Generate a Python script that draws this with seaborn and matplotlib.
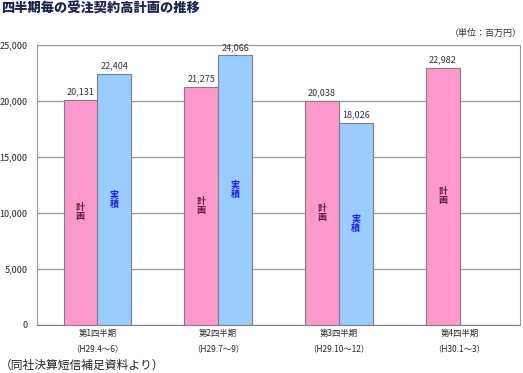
import pandas as pd
import matplotlib
matplotlib.use('Agg')
import matplotlib.pyplot as plt
import seaborn as sns

# data
quarters = ['第1四半期', '第2四半期', '第3四半期', '第4四半期']
periods = ['（H29.4～6）', '（H29.7～9）', '（H29.10～12）', '（H30.1～3）']
plan = [20131, 21275, 20038, 22982]
actual = [22404, 24066, 18026, 0]  # no actual yet for Q4
series_names = ['計画', '実積']

sns.set_style('white')
plt.rcParams['font.family'] = ['Noto Sans CJK JP', 'DejaVu Sans']

rows = []
for q, p, a in zip(quarters, plan, actual):
    rows.append({'quarter': q, 'series': series_names[0], 'value': p})
    rows.append({'quarter': q, 'series': series_names[1], 'value': a})
df = pd.DataFrame(rows)

fig = plt.figure(figsize=(5.23, 3.73), dpi=100)
ax = fig.add_axes([37 / 523, 48 / 373, 483 / 523, 280 / 373])

sns.barplot(data=df, x='quarter', y='value', hue='series', order=quarters,
            hue_order=series_names, palette=['#FF99CC', '#99CCFF'],
            saturation=1, width=0.56, edgecolor='#7f7f7f', linewidth=0.8,
            ax=ax, legend=False, zorder=3)

ax.set_ylim(0, 25000)
ax.set_xlim(-0.5, 3.5)
ax.set_yticks(range(0, 25001, 5000))
ax.set_yticklabels([f'{v:,}' for v in range(0, 25001, 5000)], fontsize=6.5)
ax.yaxis.grid(True, color='#9a9a9a', linewidth=0.9, zorder=0)
ax.tick_params(axis='y', length=0, pad=7)

ax.set_xticks(range(4))
ax.set_xticklabels([f'{q}\n{p}' for q, p in zip(quarters, periods)],
                   fontsize=6, linespacing=1.9)
ax.set_xticks([0.5, 1.5, 2.5], minor=True)
ax.tick_params(axis='x', which='major', length=0, pad=3)
ax.tick_params(axis='x', which='minor', length=3, direction='in', color='#7f7f7f')
ax.set_xlabel('')
ax.set_ylabel('')

for side in ['left', 'right', 'top', 'bottom']:
    ax.spines[side].set_visible(True)
    ax.spines[side].set_color('#9a9a9a')
ax.spines['bottom'].set_color('#7f7f7f')

# value labels and inner series labels
for container, name, color in zip(ax.containers, series_names, ['#5a2040', '#1a1aff']):
    for bar in container:
        h = bar.get_height()
        if pd.isna(h) or h == 0:
            bar.set_visible(False)
            continue
        cx = bar.get_x() + bar.get_width() / 2
        ax.text(cx, h + 300, f'{int(h):,}', ha='center', va='bottom',
                fontsize=6.5, color='#333333')
        ax.text(cx, h / 2, '\n'.join(name), ha='center', va='center',
                fontsize=6.5, color=color, fontweight='bold', linespacing=1.0)

fig.text(1 / 523, 1 - 9 / 373, '四半期毎の受注契約高計画の推移', fontsize=9.5,
         fontweight='heavy', color='#1a2650', va='center', ha='left')
fig.text(522 / 523, 1 - 33 / 373, '（単位：百万円）', fontsize=6.5,
         color='#333333', va='center', ha='right')
fig.text(0 / 523, 1 - 365 / 373, '（同社決算短信補足資料より）', fontsize=8.5,
         color='#222222', va='center', ha='left')

fig.savefig('out.png', dpi=100)
